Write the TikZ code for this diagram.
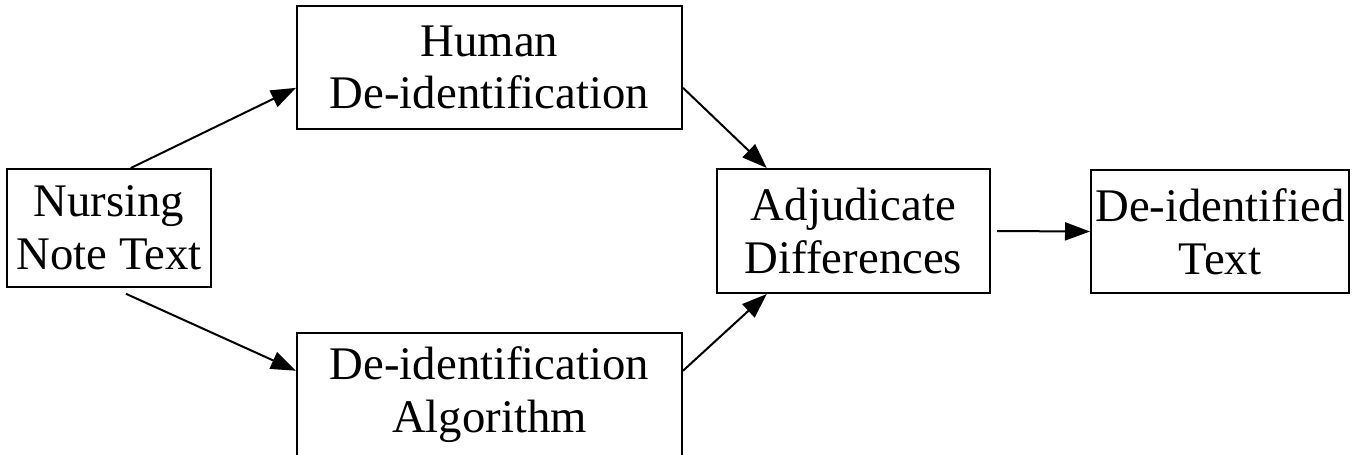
\documentclass[tikz,border=0pt]{standalone}
\usepackage{fontspec}
\setmainfont{Liberation Serif}
\usetikzlibrary{arrows.meta}
\begin{document}
\begin{tikzpicture}[line width=0.04cm, font=\fontsize{26.6}{30}\selectfont, align=center]
    \tikzset{%
      box/.style={draw, inner sep=0pt},
      pfeil/.style={-{Triangle[length=0.5cm, width=0.36cm]}}
      }
    \useasboundingbox (0,0) rectangle (27.08,9.08);

    \node [box, minimum width=4.08cm, minimum height=2.36cm] (Xnote) at (2.18,4.52) {Nursing\\Note Text};
    \node [box, minimum width=7.70cm, minimum height=2.46cm] (Xhum) at (9.79,7.73) {Human\\De-identification};
    \node [box, minimum width=7.70cm, minimum height=2.46cm] (Xalg) at (9.79,1.19) {De-identification\\Algorithm};
    \node [box, minimum width=5.46cm, minimum height=2.48cm] (Xadj) at (17.07,4.46) {Adjudicate\\Differences};
    \node [box, minimum width=5.16cm, minimum height=2.46cm] (Xout) at (24.40,4.45) {De-identified\\Text};

    \draw [pfeil] (Xnote.70) -- (Xhum.186);
    \draw [pfeil, shorten <=0.28cm] (Xnote.274) -- (Xalg.173);
    \draw [pfeil] (Xhum.354) -- (Xadj.144);
    \draw [pfeil] (Xalg.7) -- (Xadj.216);
    \draw [pfeil, shorten <=0.12cm] (Xadj.east) -- (Xout.west);
  \end{tikzpicture}
\end{document}
